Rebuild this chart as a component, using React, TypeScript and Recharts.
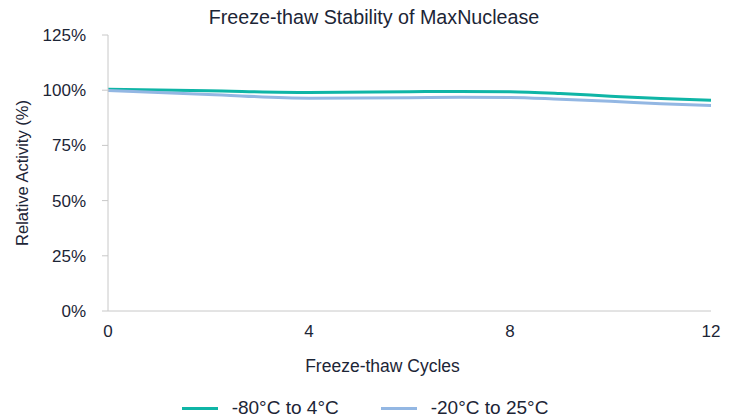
import React from "react";
import { LineChart, Line, XAxis, YAxis, Legend, Label } from "recharts";

const cycles = [0, 2, 4, 6, 7, 8, 9, 10, 11, 12];
const minus80 = [100.45, 99.7, 98.95, 99.3, 99.45, 99.3, 98.5, 97.3, 96.2, 95.45];
const minus20 = [99.9, 98.1, 96.4, 96.6, 96.8, 96.7, 95.9, 95.0, 93.9, 93.1];
const yTicks = [0, 25, 50, 75, 100, 125];
const xTicks = [0, 4, 8, 12];
const seriesNames = ["-80°C to 4°C", "-20°C to 25°C"];
const colors = ["#0fb5a6", "#93b7e3"];

const data = cycles.map((c, i) => ({ cycle: c, a: minus80[i], b: minus20[i] }));

const FONT = "'Liberation Sans', Arial, sans-serif";
const TEXT = "#1c2536";

const LegendContent = () => (
  <div style={{ display: "flex", justifyContent: "center", fontFamily: FONT, fontSize: 19, color: TEXT, paddingLeft: 19, paddingTop: 16 }}>
    {seriesNames.map((n, i) => (
      <div key={n} style={{ display: "flex", alignItems: "center", marginRight: i === 0 ? 42 : 0 }}>
        <span style={{ display: "inline-block", width: 36, height: 3, background: colors[i], marginRight: 14 }} />
        <span>{n}</span>
      </div>
    ))}
  </div>
);

export default function App() {
  return (
    <div style={{ position: "absolute", left: 0, top: 0, width: 738, height: 418, background: "#fff" }}>
      <div style={{ position: "absolute", top: 6, left: 0, width: 748, textAlign: "center", fontFamily: FONT, fontSize: 19.7, color: TEXT }}>
        Freeze-thaw Stability of MaxNuclease
      </div>
      <LineChart width={738} height={418} data={data} margin={{ top: 35, right: 27, bottom: 0, left: 0 }}>
        <XAxis
          dataKey="cycle"
          type="number"
          domain={[0, 12]}
          ticks={xTicks}
          tickLine={false}
          axisLine={{ stroke: "#c8c8c8" }}
          tick={{ fill: TEXT, fontSize: 17, fontFamily: FONT }}
          tickMargin={8}
          height={70}
        >
          <Label value="Freeze-thaw Cycles" position="insideBottom" offset={9} dx={-27} style={{ fill: TEXT, fontSize: 17.5, fontFamily: FONT }} />
        </XAxis>
        <YAxis
          width={108}
          domain={[0, 125]}
          ticks={yTicks}
          tickFormatter={(v: number) => `${v}%`}
          tickLine={{ stroke: "#c8c8c8" }}
          tickSize={6}
          axisLine={{ stroke: "#c8c8c8" }}
          tick={{ fill: TEXT, fontSize: 17, fontFamily: FONT }}
          tickMargin={16}
        >
          <Label value="Relative Activity (%)" angle={-90} position="insideLeft" offset={22} style={{ textAnchor: "middle", fill: TEXT, fontSize: 16.5, fontFamily: FONT }} />
        </YAxis>
        <Legend verticalAlign="bottom" height={37} content={<LegendContent />} />
        <Line type="monotone" dataKey="a" name={seriesNames[0]} stroke={colors[0]} strokeWidth={3} dot={false} isAnimationActive={false} />
        <Line type="monotone" dataKey="b" name={seriesNames[1]} stroke={colors[1]} strokeWidth={3} dot={false} isAnimationActive={false} />
      </LineChart>
    </div>
  );
}
